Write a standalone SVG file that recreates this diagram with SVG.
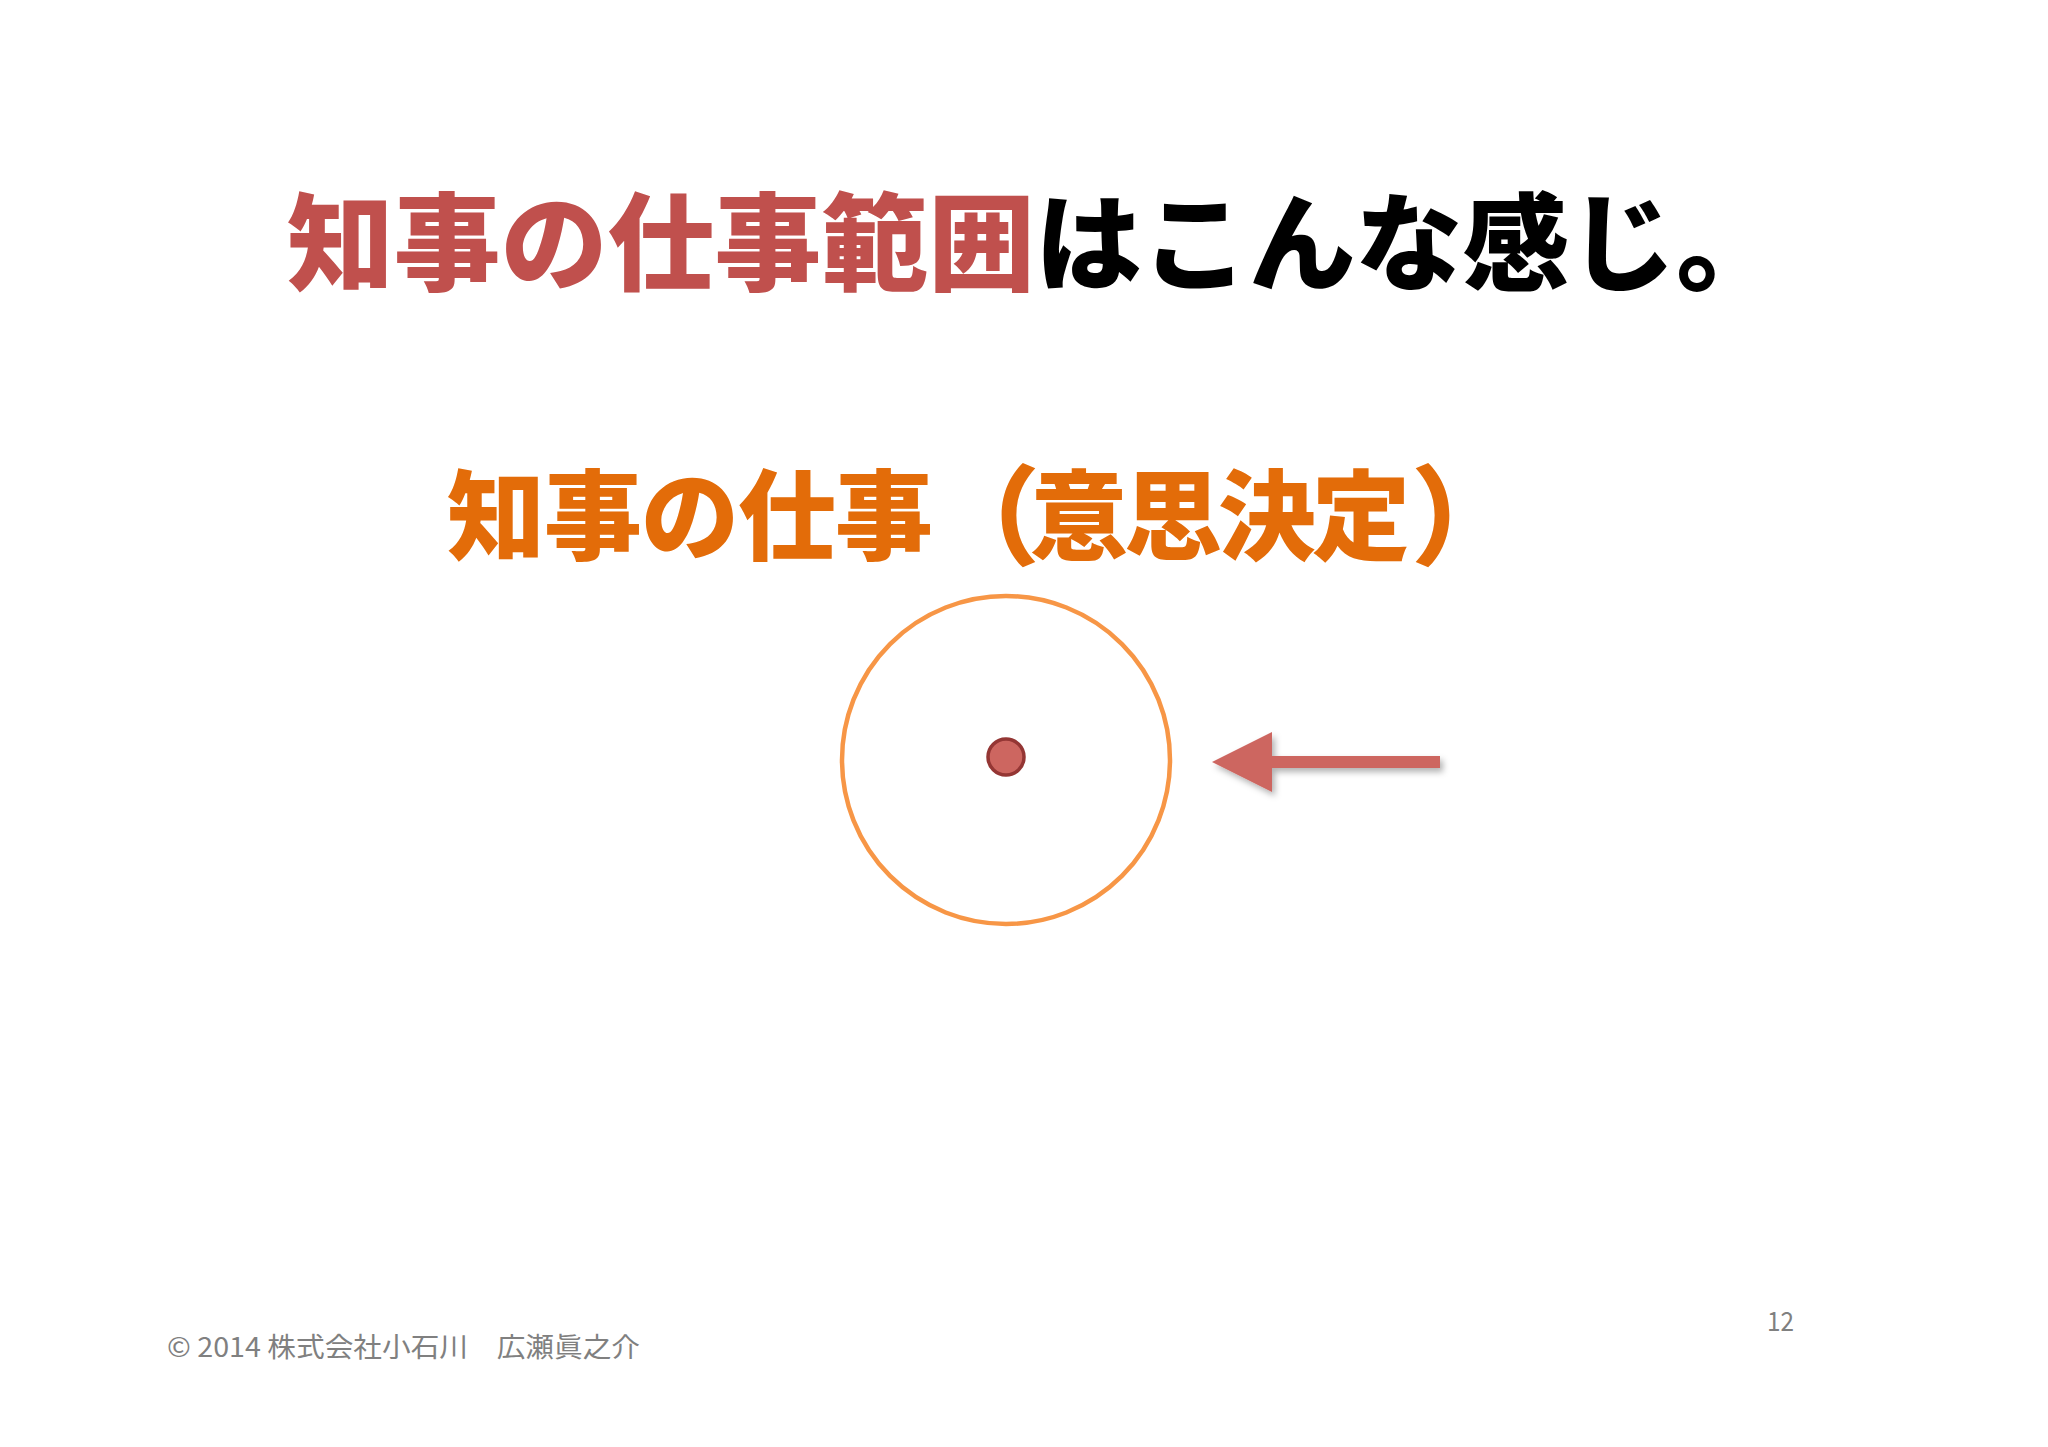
<svg xmlns="http://www.w3.org/2000/svg" width="2048" height="1447" viewBox="0 0 2048 1447">
<defs>
<style>
.jp{font-family:"Noto Sans CJK JP","Noto Sans",sans-serif;}
.title{font-size:106px;font-weight:900;}
.sub{font-size:98px;font-weight:900;fill:#E36C09;}
.paren{font-size:108px;}
.foot{font-size:27px;fill:#808080;}
</style>
<filter id="sh" x="-20%" y="-50%" width="140%" height="200%">
<feDropShadow dx="3" dy="4" stdDeviation="3" flood-color="#000" flood-opacity="0.3"/>
</filter>
</defs>
<rect width="2048" height="1447" fill="#FFFFFF"/>
<g id="title">
<text class="jp title" x="287" y="282" textLength="1496" lengthAdjust="spacingAndGlyphs"><tspan fill="#C0504D">知事の仕事範囲</tspan><tspan fill="#000000">はこんな感じ。</tspan></text>
</g>
<g id="subtitle">
<text class="jp sub" y="552"><tspan x="447 544 641 738 835">知事の仕事</tspan><tspan class="paren" x="932" y="556">（</tspan><tspan x="1030 1124 1218 1312" y="552">意思決定</tspan><tspan class="paren" x="1411" y="556">）</tspan></text>
</g>
<g id="scope-circle">
<circle cx="1006" cy="760" r="164" fill="none" stroke="#F79646" stroke-width="4.5"/>
</g>
<g id="governor-dot">
<circle cx="1006" cy="757" r="18" fill="#CD6660" stroke="#943634" stroke-width="3.5"/>
</g>
<g id="connectors">
<polygon points="1212,762 1272,732 1272,756 1440,756 1440,768 1272,768 1272,792" fill="#CD6660" filter="url(#sh)"/>
</g>
<g id="footer">
<text class="jp foot" x="167" y="1357" textLength="473" lengthAdjust="spacingAndGlyphs">© 2014 株式会社小石川　広瀬眞之介</text>
<text class="jp foot" x="1767" y="1331" font-size="30" textLength="27" lengthAdjust="spacingAndGlyphs">12</text>
</g>
</svg>
